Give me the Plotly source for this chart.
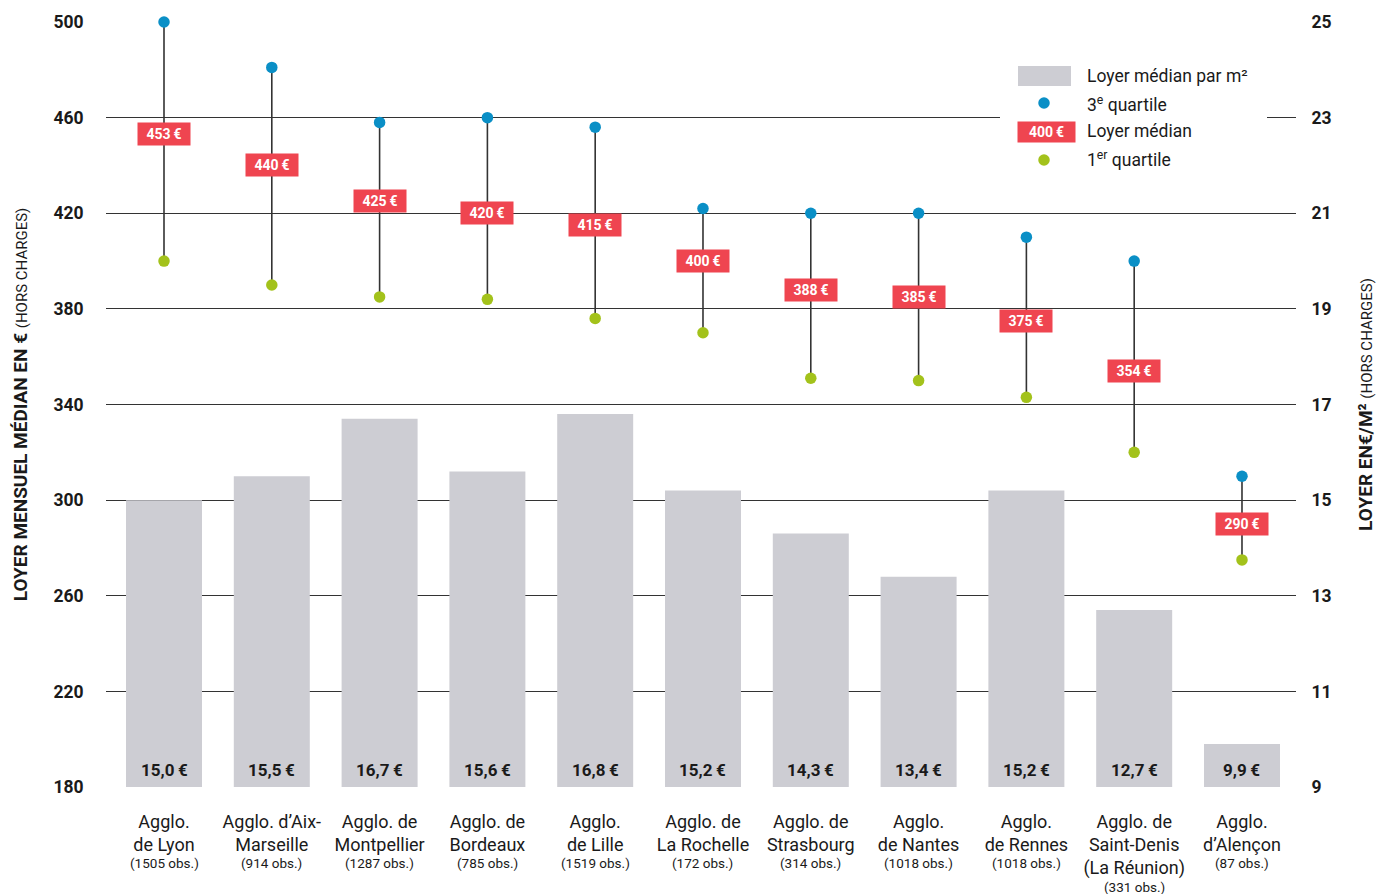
import plotly.graph_objects as go

# ---------------- data ----------------
cat_lines = [
    ["Agglo.", "de Lyon"],
    ["Agglo. d’Aix-", "Marseille"],
    ["Agglo. de", "Montpellier"],
    ["Agglo. de", "Bordeaux"],
    ["Agglo.", "de Lille"],
    ["Agglo. de", "La Rochelle"],
    ["Agglo. de", "Strasbourg"],
    ["Agglo.", "de Nantes"],
    ["Agglo.", "de Rennes"],
    ["Agglo. de", "Saint-Denis", "(La Réunion)"],
    ["Agglo.", "d’Alençon"],
]
obs = ["1505", "914", "1287", "785", "1519", "172", "314", "1018", "1018", "331", "87"]
q3 = [500, 481, 458, 460, 456, 422, 420, 420, 410, 400, 310]
median = [453, 440, 425, 420, 415, 400, 388, 385, 375, 354, 290]
q1 = [400, 390, 385, 384, 376, 370, 351, 350, 343, 320, 275]
loyer_m2 = [15.0, 15.5, 16.7, 15.6, 16.8, 15.2, 14.3, 13.4, 15.2, 12.7, 9.9]

left_ticks = [180, 220, 260, 300, 340, 380, 420, 460, 500]
right_ticks = [9, 11, 13, 15, 17, 19, 21, 23, 25]

# ---------------- styles ----------------
FONT = "Roboto"
BAR = "#cdcdd3"
BLUE = "#0a8fc6"
GREEN = "#a3c21b"
RED = "#ef4550"
INK = "#1a1a1a"
GRID = "#333333"
THIN = "\u2009"

OFF = 8  # page body margin
W, H = 1388 - 2 * OFF, 894 - OFF
# plot area in page pixels: x 106..1296, y 22..787
ML = 106 - OFF
MR = W - (1296 - OFF)
MT = 22 - OFF
MB = H - (787 - OFF)
PW, PH = W - ML - MR, H - MT - MB

def px_x(p):
    return (p - OFF - ML) / PW

def px_y(p):
    return (H - MB - (p - OFF)) / PH

x = list(range(len(cat_lines)))
ticktext = ["<br>".join(lines) for lines in cat_lines]

fig = go.Figure()

# bars: loyer par m² (right axis)
fig.add_trace(go.Bar(
    x=x, y=loyer_m2, yaxis="y2",
    marker=dict(color=BAR, line=dict(width=0)),
    width=0.705,
    showlegend=False, hoverinfo="skip",
))
for xi, v in zip(x, loyer_m2):
    fig.add_annotation(
        x=xi, y=9, xref="x", yref="y2", yanchor="bottom", yshift=5,
        text=f"{v:.1f}".replace(".", ",") + THIN + "€", showarrow=False,
        font=dict(family=FONT, size=17, color=INK, weight="bold"),
    )

# observation counts under the category labels
for xi, lines, o in zip(x, cat_lines, obs):
    fig.add_annotation(
        x=xi, y=0, xref="x", yref="paper", xanchor="center", yanchor="middle",
        yshift=-(76 + 24 * (len(lines) - 2)),
        text=f"({o} obs.)", showarrow=False,
        font=dict(family=FONT, size=13.5, color=INK),
    )

# vertical segments q1 -> q3
seg_x, seg_y = [], []
for xi, a, b in zip(x, q1, q3):
    seg_x += [xi, xi, None]
    seg_y += [a, b, None]
fig.add_trace(go.Scatter(
    x=seg_x, y=seg_y, mode="lines", cliponaxis=False,
    line=dict(color="#333333", width=1.6),
    showlegend=False, hoverinfo="skip",
))

# quartile dots
fig.add_trace(go.Scatter(
    x=x, y=q3, mode="markers", cliponaxis=False,
    marker=dict(color=BLUE, size=11.5, line=dict(width=0)),
    showlegend=False,
))
fig.add_trace(go.Scatter(
    x=x, y=q1, mode="markers", cliponaxis=False,
    marker=dict(color=GREEN, size=11.5, line=dict(width=0)),
    showlegend=False,
))

# median labels
for xi, m in zip(x, median):
    fig.add_annotation(
        x=xi, y=m, xref="x", yref="y", text=f"{m}{THIN}€",
        xanchor="center", yanchor="middle",
        showarrow=False, bgcolor=RED, borderpad=3, width=46, height=16,
        font=dict(family=FONT, size=14, color="white", weight="bold"),
    )

# ---------------- manual legend ----------------
shapes = []
shapes.append(dict(type="rect", xref="paper", yref="paper",
                   x0=px_x(1000), x1=px_x(1267), y0=px_y(178), y1=px_y(55),
                   fillcolor="white", line=dict(width=0), layer="above"))
shapes.append(dict(type="rect", xref="paper", yref="paper",
                   x0=px_x(1018), x1=px_x(1071), y0=px_y(86), y1=px_y(66),
                   fillcolor=BAR, line=dict(width=0), layer="above"))
for cy, col in [(103, BLUE), (160, GREEN)]:
    shapes.append(dict(type="circle", xref="paper", yref="paper",
                       xsizemode="pixel", ysizemode="pixel",
                       xanchor=px_x(1044), yanchor=px_y(cy),
                       x0=-5.75, x1=5.75, y0=-5.75, y1=5.75,
                       fillcolor=col, line=dict(width=0), layer="above"))
fig.add_annotation(xref="paper", yref="paper", x=px_x(1046.5), y=px_y(132),
                   xanchor="center", yanchor="middle",
                   text=f"400{THIN}€", showarrow=False, bgcolor=RED, borderpad=3,
                   width=51, height=14,
                   font=dict(family=FONT, size=14, color="white", weight="bold"))
for ty, txt in [(76, "Loyer médian par m²"), (104, "3<sup>e</sup> quartile"),
                (131, "Loyer médian"), (159, "1<sup>er</sup> quartile")]:
    fig.add_annotation(xref="paper", yref="paper", x=px_x(1085), y=px_y(ty),
                       xanchor="left", yanchor="middle", text=txt, showarrow=False,
                       font=dict(family=FONT, size=17.5, color=INK))

fig.update_layout(
    width=W, height=H,
    margin=dict(l=ML, r=MR, t=MT, b=MB, autoexpand=False),
    paper_bgcolor="white", plot_bgcolor="white",
    shapes=shapes,
    showlegend=False,
    xaxis=dict(
        range=[-0.538, len(x) - 1 + 0.501], automargin=False,
        tickvals=x, ticktext=ticktext,
        tickfont=dict(family=FONT, size=18, color=INK),
        ticks="outside", ticklen=18, tickcolor="rgba(0,0,0,0)",
        showgrid=False, zeroline=False, showline=False,
    ),
    yaxis=dict(
        range=[180, 500], tickvals=left_ticks, automargin=False,
        tickfont=dict(family=FONT, size=17.5, color=INK, weight="bold"),
        ticks="outside", ticklen=18, tickcolor="rgba(0,0,0,0)",
        showgrid=True, gridcolor=GRID, gridwidth=1.2,
        zeroline=False, showline=False,
        title=dict(
            text="<b>LOYER MENSUEL MÉDIAN EN €</b> <span style='font-size:15px'>(HORS CHARGES)</span>",
            font=dict(family=FONT, size=19, color=INK), standoff=20,
        ),
    ),
    yaxis2=dict(
        range=[9, 25], tickvals=right_ticks, overlaying="y", side="right",
        automargin=False,
        tickfont=dict(family=FONT, size=17.5, color=INK, weight="bold"),
        ticks="outside", ticklen=11, tickcolor="rgba(0,0,0,0)",
        showgrid=False, zeroline=False, showline=False,
        title=dict(
            text="<b>LOYER EN€/M²</b> <span style='font-size:15px'>(HORS CHARGES)</span>",
            font=dict(family=FONT, size=19, color=INK), standoff=28,
        ),
    ),
)

fig.write_html("out.html")
